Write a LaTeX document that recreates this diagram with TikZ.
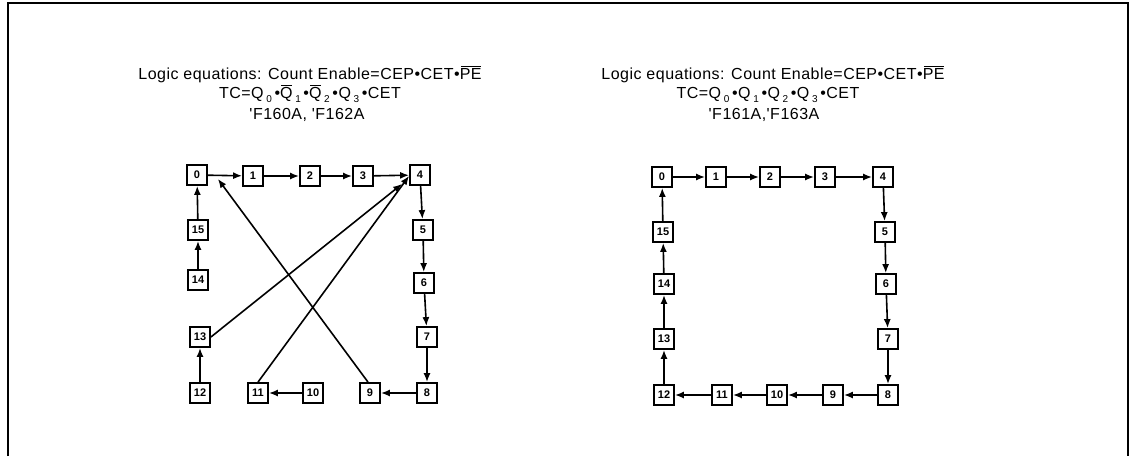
\documentclass[tikz,border=0pt]{standalone}
\usepackage{fontspec}
\setmainfont{Liberation Sans}
\newfontfamily\ttlfont[LetterSpace=3]{Liberation Sans}
\usetikzlibrary{arrows.meta}
\newcommand{\ovl}[1]{\setbox0\hbox{#1}\rlap{\hspace{1pt}\rule[\dimexpr\ht0+0.6pt\relax]{\dimexpr\wd0-2pt\relax}{1.1pt}}\box0}
\newcommand{\lsub}[1]{\,\raisebox{-4pt}{\fontsize{10}{10}\selectfont #1}\,}
\tikzset{
  st/.style={draw, line width=1.8pt, minimum width=20pt, minimum height=20pt, inner sep=0pt, font=\fontsize{11}{11}\selectfont\bfseries},
  arr/.style={line width=1.6pt, -{Latex[length=9pt,width=7pt]}},
  ttl/.style={font=\ttlfont\fontsize{16}{16}\selectfont, inner sep=0pt, anchor=base}
}
\begin{document}
\begin{tikzpicture}[x=1pt,y=-1pt]
\useasboundingbox (0,0) rectangle (1131,456);
\draw[line width=1.5pt] (8,456) -- (8,3) -- (1128,3) -- (1128,456);
% titles left
\node[ttl] (tl1) at (310,79) {Logic equations: Count Enable=CEP•CET•\ovl{PE}};
\node[ttl] (tl2) at (310,98) {TC=Q\lsub{0}•\ovl{Q}\lsub{1}•\ovl{Q}\lsub{2}•Q\lsub{3}•CET};
\node[ttl] (tl3) at (307,119) {'F160A, 'F162A};
% titles right
\node[ttl] (tr1) at (773,79) {Logic equations: Count Enable=CEP•CET•\ovl{PE}};
\node[ttl] (tr2) at (768,98) {TC=Q\lsub{0}•Q\lsub{1}•Q\lsub{2}•Q\lsub{3}•CET};
\node[ttl] (tr3) at (764,119) {'F161A,'F163A};
% left states
\node[st] (L0) at (197,175) {0};
\node[st] (L1) at (253,176) {1};
\node[st] (L2) at (310,176) {2};
\node[st] (L3) at (363,176) {3};
\node[st] (L4) at (420,175) {4};
\node[st] (L5) at (423,230) {5};
\node[st] (L6) at (424,283) {6};
\node[st] (L7) at (427,337) {7};
\node[st] (L8) at (427,393) {8};
\node[st] (L9) at (370,393) {9};
\node[st] (L10) at (313,393) {10};
\node[st] (L11) at (258,393) {11};
\node[st] (L12) at (200,393) {12};
\node[st] (L13) at (200,337) {13};
\node[st] (L14) at (198,280) {14};
\node[st] (L15) at (198,230) {15};
\draw[arr] (L0) -- (L1);
\draw[arr] (L1) -- (L2);
\draw[arr] (L2) -- (L3);
\draw[arr] (L3) -- (L4);
\draw[arr] (L4) -- (L5);
\draw[arr] (L5) -- (L6);
\draw[arr] (L6) -- (L7);
\draw[arr] (L7) -- (L8);
\draw[arr] (L8) -- (L9);
\draw[arr] (L10) -- (L11);
\draw[arr] (L12) -- (L13);
\draw[arr] (L14) -- (L15);
\draw[arr] (L15) -- (L0);
\draw[arr] (L13.east) -- ([shift={(-7pt,2pt)}]L4.south west);
\draw[arr] (L11.north) -- ([shift={(0pt,10pt)}]L4.south west);
\draw[arr] ([xshift=-2pt]L9.north) -- ([shift={(10pt,7pt)}]L0.south east);
% right states
\node[st] (R0) at (662,177) {0};
\node[st] (R1) at (716,177) {1};
\node[st] (R2) at (770,177) {2};
\node[st] (R3) at (825,177) {3};
\node[st] (R4) at (883,177) {4};
\node[st] (R5) at (885,232) {5};
\node[st] (R6) at (886,284) {6};
\node[st] (R7) at (888,339) {7};
\node[st] (R8) at (888,395) {8};
\node[st] (R9) at (833,395) {9};
\node[st] (R10) at (777,395) {10};
\node[st] (R11) at (722,395) {11};
\node[st] (R12) at (664,395) {12};
\node[st] (R13) at (664,339) {13};
\node[st] (R14) at (664,284) {14};
\node[st] (R15) at (663,232) {15};
\draw[arr] (R0) -- (R1);
\draw[arr] (R1) -- (R2);
\draw[arr] (R2) -- (R3);
\draw[arr] (R3) -- (R4);
\draw[arr] (R4) -- (R5);
\draw[arr] (R5) -- (R6);
\draw[arr] (R6) -- (R7);
\draw[arr] (R7) -- (R8);
\draw[arr] (R8) -- (R9);
\draw[arr] (R9) -- (R10);
\draw[arr] (R10) -- (R11);
\draw[arr] (R11) -- (R12);
\draw[arr] (R12) -- (R13);
\draw[arr] (R13) -- (R14);
\draw[arr] (R14) -- (R15);
\draw[arr] (R15) -- (R0);
\end{tikzpicture}
\end{document}
